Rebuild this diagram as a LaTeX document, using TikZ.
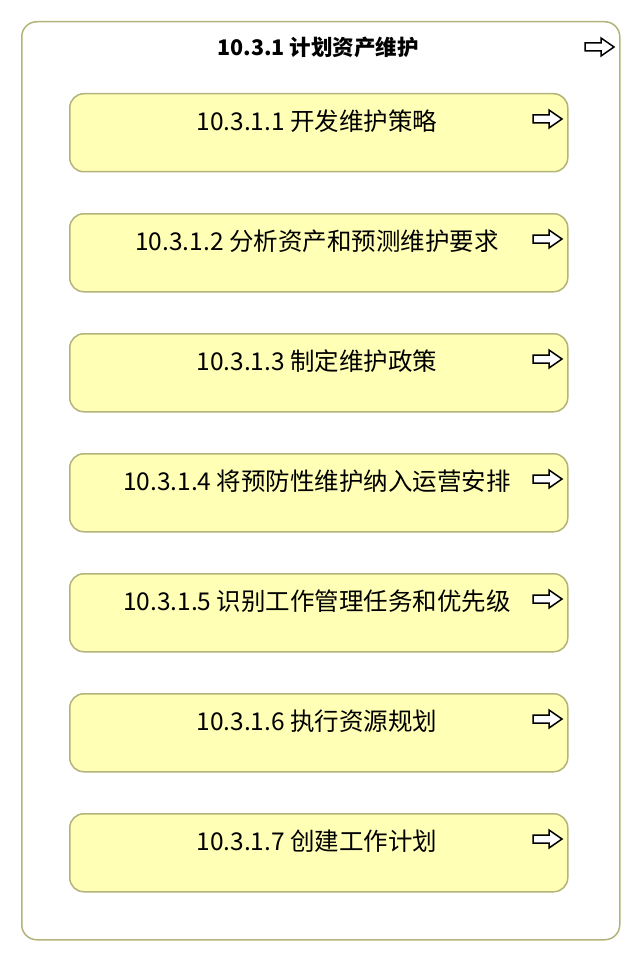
\documentclass[tikz,border=0pt]{standalone}
\usepackage{fontspec}
\setmainfont{Noto Sans CJK SC}
\definecolor{boxfill}{HTML}{FFFFB5}
\definecolor{boxline}{HTML}{B3B37A}
\begin{document}
\begin{tikzpicture}[x=1pt,y=-1pt,
  outerbox/.style={draw=boxline,line width=1.5pt,fill=white,rounded corners=15pt},
  funcbox/.style={draw=boxline,line width=1.5pt,fill=boxfill,rounded corners=14pt},
  lbl/.style={font=\fontsize{24.5}{28}\selectfont,anchor=center,inner sep=0pt},
  ttl/.style={font=\bfseries\fontsize{21.5}{25}\selectfont,anchor=center,inner sep=0pt},
  arrowicon/.style={draw=black,line width=1.5pt,fill=white,line join=miter}]
\useasboundingbox (0,0) rectangle (640,960);
\newcommand{\arrowsym}[2]{%
  \draw[arrowicon] (#1,#2-4) -- (#1+16,#2-4) -- (#1+16,#2-9) -- (#1+29,#2) -- (#1+16,#2+9) -- (#1+16,#2+4) -- (#1,#2+4) -- cycle;}
\node[outerbox,minimum width=598pt,minimum height=918pt,anchor=north west] (outer) at (21,21) {};
\node[ttl] (title) at (318,47) {10.3.1 计划资产维护};
\arrowsym{585}{47}
\foreach \i/\t in {0/10.3.1.1 开发维护策略,1/10.3.1.2 分析资产和预测维护要求,2/10.3.1.3 制定维护政策,3/10.3.1.4 将预防性维护纳入运营安排,4/10.3.1.5 识别工作管理任务和优先级,5/10.3.1.6 执行资源规划,6/10.3.1.7 创建工作计划}{
  \node[funcbox,minimum width=498pt,minimum height=78pt,anchor=north west] (b\i) at (69,93+120*\i) {};
  \node[lbl] (t\i) at (317,121+120*\i) {\t};
  \arrowsym{533}{119+120*\i}
}
\end{tikzpicture}
\end{document}
